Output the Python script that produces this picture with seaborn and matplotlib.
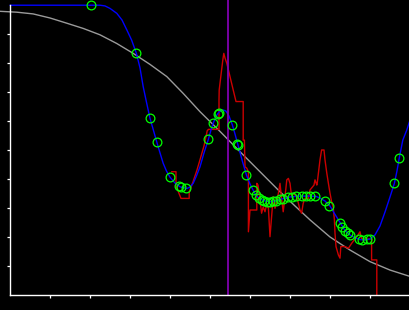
import matplotlib
matplotlib.use("Agg")
import matplotlib.pyplot as plt
import seaborn as sns
import pandas as pd

# ---- data ----
gray_x = [-2.5, 1.7, 5.8, 10, 14.2, 18.3, 22.5, 26.7, 30.8, 35, 39.2, 43.3, 47.5,
          52.5, 57.5, 62.5, 67.5, 71.25, 75, 80, 85, 90, 95, 100]
gray_y = [97.8, 97.5, 96.9, 95.5, 93.7, 91.9, 89.7, 86.7, 83.3, 79.5, 75.3, 69.5, 63.2,
          56.4, 49.4, 42.5, 35.6, 30.7, 25.9, 20.0, 15.5, 11.5, 8.6, 6.4]

blue_x = [0, 12.5, 22.5, 23.75, 25, 26.7, 28, 29.2, 30.4, 31.6, 32.5, 33.3, 34.1, 35,
          35.9, 36.7, 37.5, 38.3, 39.1, 40, 41.25, 42.5, 44.2, 45, 45.8, 46.6, 47.5,
          48.5, 49.6, 50.25, 50.8, 51.5, 52.25, 53.25, 54, 54.75, 55.6, 56.25, 57, 58,
          59.1, 60, 60.8, 61.5, 62.3, 63.5, 65, 66.5, 68.25, 70, 72.5, 75, 76.5, 77.5,
          78.75, 80, 81.25, 82.6, 83.75, 85, 86.25, 87.5, 88.75, 90, 91.25, 92.5, 93.75,
          95, 96.1, 96.75, 97.3, 98.2, 99.2, 100]
blue_y = [99.9, 99.9, 99.9, 99.66, 98.8, 97.1, 94.8, 91.4, 87.9, 83.3, 78.3, 71.8, 66.6, 60.9,
          56.6, 52.7, 49.0, 45.4, 42.8, 40.6, 38.6, 37.3, 36.7, 37.2, 38.5, 41.0, 44.2,
          49.0, 53.7, 56.9, 59.2, 61.6, 63.1, 63.8, 63.4, 61.7, 58.6, 55.5, 51.7, 46.6,
          41.4, 38.3, 36.1, 34.4, 33.3, 32.5, 32.1, 32.5, 33.2, 33.8, 34.1, 34.1, 34.0, 33.4,
          32.4, 30.7, 27.8, 24.8, 22.2, 20.7, 19.7, 19.1, 19.0, 19.3, 20.7, 23.8, 28.6,
          33.8, 38.5, 42.8, 47.1, 53.4, 56.9, 60.3]

red_x = [40.4, 41.5, 41.5, 42.75, 44.8, 44.8, 45.75, 46.75, 47.5, 48.5, 49.3, 49.6, 52.25,
         52.25, 52.3, 52.9, 53.2, 53.45, 53.75, 54.2, 55, 55.8, 56.5, 58.3, 58.3, 58.6,
         58.75, 59.2, 59.6, 59.6, 60, 61.7, 61.7, 62, 62.5, 62.9, 63.3, 63.75, 64.2, 64.6,
         65, 65.4, 65.8, 66.25, 66.7, 67.1, 67.5, 67.9, 68.3, 68.75, 69.2, 69.6, 70, 70.4,
         70.8, 71.7, 72.5, 72.9, 73.3, 73.75, 74.6, 75, 76, 76.25, 76.7, 76.8, 77.1, 77.5,
         77.9, 78.5, 78.75, 79.2, 79.6, 80, 80.4, 80.8, 81.1, 81.25, 81.5, 82.1, 82.5, 82.7,
         83.75, 84.6, 85.4, 86.7, 87.5, 87.9, 90.4, 90.4, 91.7, 91.7]
red_y = [42.5, 42.5, 37.6, 33.3, 33.3, 35.5, 39.0, 43.1, 46.6, 51.4, 56.6, 57.1, 57.1,
         67.2, 70.7, 77.6, 81.0, 83.3, 81.7, 79.9, 75.3, 70.7, 66.7, 66.7, 53.4, 53.4,
         44.2, 43.7, 42.5, 21.8, 29.3, 29.3, 38.5, 37.9, 32.8, 28.2, 30.4, 28.7, 31.6, 29.9,
         20.1, 27.0, 33.9, 29.9, 32.2, 35.1, 38.5, 33.3, 28.7, 33.9, 39.7, 40.2, 38.5, 33.9,
         35.1, 33.9, 29.3, 28.2, 31.6, 33.3, 33.3, 36.2, 37.9, 39.7, 37.9, 38.5, 42.0, 46.6,
         50.0, 50.0, 46.6, 42.0, 38.5, 35.1, 32.2, 30.4, 25.9, 21.3, 16.7, 13.8, 12.7, 16.7,
         16.7, 16.1, 17.8, 20.1, 21.8, 19.3, 19.3, 12.1, 12.1, 0.0]

pts_x = [20.3, 31.6, 35.1, 36.7, 40, 42.3, 42.7, 44.1, 49.6, 50.8, 51.9, 52.2, 55.6, 56.75,
         57.1, 59.1, 60.8, 61.5, 62.3, 63, 63.6, 64.2, 65, 65.7, 66.5, 67.5, 68.3, 69.6,
         70.4, 71.5, 72.9, 74, 75, 76.25, 78.75, 79.8, 82.6, 83.1, 83.75, 84.4, 84.9, 87.3,
         88.1, 89.3, 90.1, 96.1, 97.3]
pts_y = [99.9, 83.3, 60.9, 52.7, 40.6, 37.6, 37.1, 36.8, 53.7, 59.2, 62.4, 62.9, 58.6, 52.1,
         51.6, 41.4, 36.1, 34.4, 33.3, 32.8, 32.4, 32.1, 32.1, 32.3, 32.5, 33.0, 33.2, 33.7,
         33.9, 34.1, 34.1, 34.1, 34.1, 34.1, 32.4, 30.7, 24.8, 23.3, 22.2, 21.5, 20.8, 19.2,
         19.0, 19.2, 19.3, 38.5, 47.1]

vline_x = 54.6
ticks = [10, 20, 30, 40, 50, 60, 70, 80, 90]

# ---- figure ----
sns.set_style("dark", {"axes.facecolor": "black", "figure.facecolor": "black"})
fig = plt.figure(figsize=(4.1, 3.1), dpi=100, facecolor="black")
ax = fig.add_axes([0, 0, 1, 1])
ax.set_facecolor("black")

gray_df = pd.DataFrame({"x": gray_x, "y": gray_y})
blue_df = pd.DataFrame({"x": blue_x, "y": blue_y})
red_df = pd.DataFrame({"x": red_x, "y": red_y})
pts_df = pd.DataFrame({"x": pts_x, "y": pts_y})

sns.lineplot(data=gray_df, x="x", y="y", ax=ax, color="#9a9a9a", lw=1.0,
             sort=False, estimator=None)
sns.lineplot(data=red_df, x="x", y="y", ax=ax, color="#cc0000", lw=1.0,
             sort=False, estimator=None, drawstyle="default")
sns.lineplot(data=blue_df, x="x", y="y", ax=ax, color="#0000ff", lw=1.0,
             sort=False, estimator=None)
ax.vlines(vline_x, 0, 102, color="#8000b0", lw=1.3)
ax.plot(pts_df["x"], pts_df["y"], ls="none", marker="o", ms=6.3,
        mfc="none", mec="#00ff00", mew=0.9)

ax.set_xlim(-2.5, 100)
ax.set_ylim(-5.17, 101.7)
ax.set_xticks(ticks)
ax.set_yticks(ticks)
ax.set_xticklabels([])
ax.set_yticklabels([])
ax.set_xlabel("")
ax.set_ylabel("")
ax.grid(False)

for s in ["top", "right"]:
    ax.spines[s].set_visible(False)
ax.spines["left"].set_position(("data", 0))
ax.spines["bottom"].set_position(("data", 0))
ax.spines["left"].set_bounds(0, 100)
ax.spines["bottom"].set_bounds(0, 100)
for s in ["left", "bottom"]:
    ax.spines[s].set_color("white")
    ax.spines[s].set_linewidth(1.0)
ax.tick_params(axis="both", direction="out", length=2.5, width=0.9,
               colors="white", left=True, bottom=True)

fig.savefig("out.png", dpi=100, facecolor="black")
